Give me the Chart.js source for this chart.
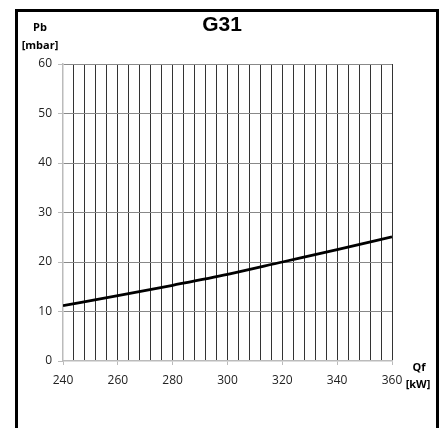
<!DOCTYPE html>
<html>
<head>
<meta charset="utf-8">
<script src="https://cdn.jsdelivr.net/npm/chart.js@4"></script>
<style>
  html, body { margin: 0; padding: 0; background: #fff; }
  #wrap { position: relative; width: 444px; height: 428px; overflow: hidden; }
  #frame {
    position: absolute; left: 15px; top: 9px; width: 418px; height: 440px;
    border: 3px solid #000; pointer-events: none;
  }
</style>
</head>
<body>
<div id="wrap">
  <canvas id="chart" width="444" height="428"></canvas>
  <div id="frame"></div>
</div>
<script>
// Données
const qf = [240, 260, 280, 300, 320, 340, 360];          // kW
const pb = [11.2, 13.2, 15.3, 17.5, 20.0, 22.5, 25.1];   // mbar
const chartTitle = 'G31';
const yTitle = ['Pb', '[mbar]'];
const xTitle = ['Qf', '[kW]'];

const FONT = '"Open Sans", "Liberation Sans", sans-serif';

// Textes (titre + unités des axes)
const labelsPlugin = {
  id: 'labels',
  afterDraw(chart) {
    const c = chart.ctx;
    c.save();
    c.fillStyle = '#000';
    c.textAlign = 'center';
    c.textBaseline = 'middle';
    c.font = 'bold 21px "Liberation Sans", Arial, sans-serif';
    c.fillText(chartTitle, 222, 25);
    c.font = 'bold 11px ' + FONT;
    c.fillText(yTitle[0], 40, 28);
    c.fillText(yTitle[1], 40, 46);
    c.fillText(xTitle[0], 419, 368);
    c.fillText(xTitle[1], 418, 385);
    c.restore();
  }
};

const ctx = document.getElementById('chart').getContext('2d');
const chart = new Chart(ctx, {
  type: 'line',
  data: {
    datasets: [{
      data: qf.map((x, i) => ({ x: x, y: pb[i] })),
      borderColor: '#000',
      borderWidth: 2.8,
      pointRadius: 0,
      tension: 0.3,
      cubicInterpolationMode: 'monotone'
    }]
  },
  options: {
    responsive: false,
    animation: false,
    devicePixelRatio: 1,
    layout: { padding: { top: 64, right: 52, left: 0, bottom: 0 } },
    plugins: { legend: { display: false }, tooltip: { enabled: false } },
    scales: {
      x: {
        type: 'linear',
        min: 240, max: 360,
        afterFit: s => { s.height = 67; },
        border: { color: '#bbb', width: 1.5 },
        grid: {
          color: c => c.index === 0 ? 'rgba(0,0,0,0)' : '#333',
          tickColor: c => (c.tick && c.tick.value % 20 === 0) ? '#bbb' : 'rgba(0,0,0,0)',
          tickLength: 4
        },
        ticks: {
          stepSize: 4,
          autoSkip: false,
          maxRotation: 0,
          padding: 8,
          color: '#222',
          font: { family: FONT, size: 12 },
          callback: v => v % 20 === 0 ? v : ''
        }
      },
      y: {
        min: 0, max: 60,
        afterFit: s => { s.width = 63; },
        border: { color: '#bbb', width: 1.5 },
        grid: {
          color: c => c.index === 0 ? 'rgba(0,0,0,0)' : '#888',
          tickColor: '#bbb',
          tickLength: 5
        },
        ticks: {
          stepSize: 10,
          padding: 6,
          color: '#222',
          font: { family: FONT, size: 12 }
        }
      }
    }
  },
  plugins: [labelsPlugin]
});
</script>
</body>
</html>
